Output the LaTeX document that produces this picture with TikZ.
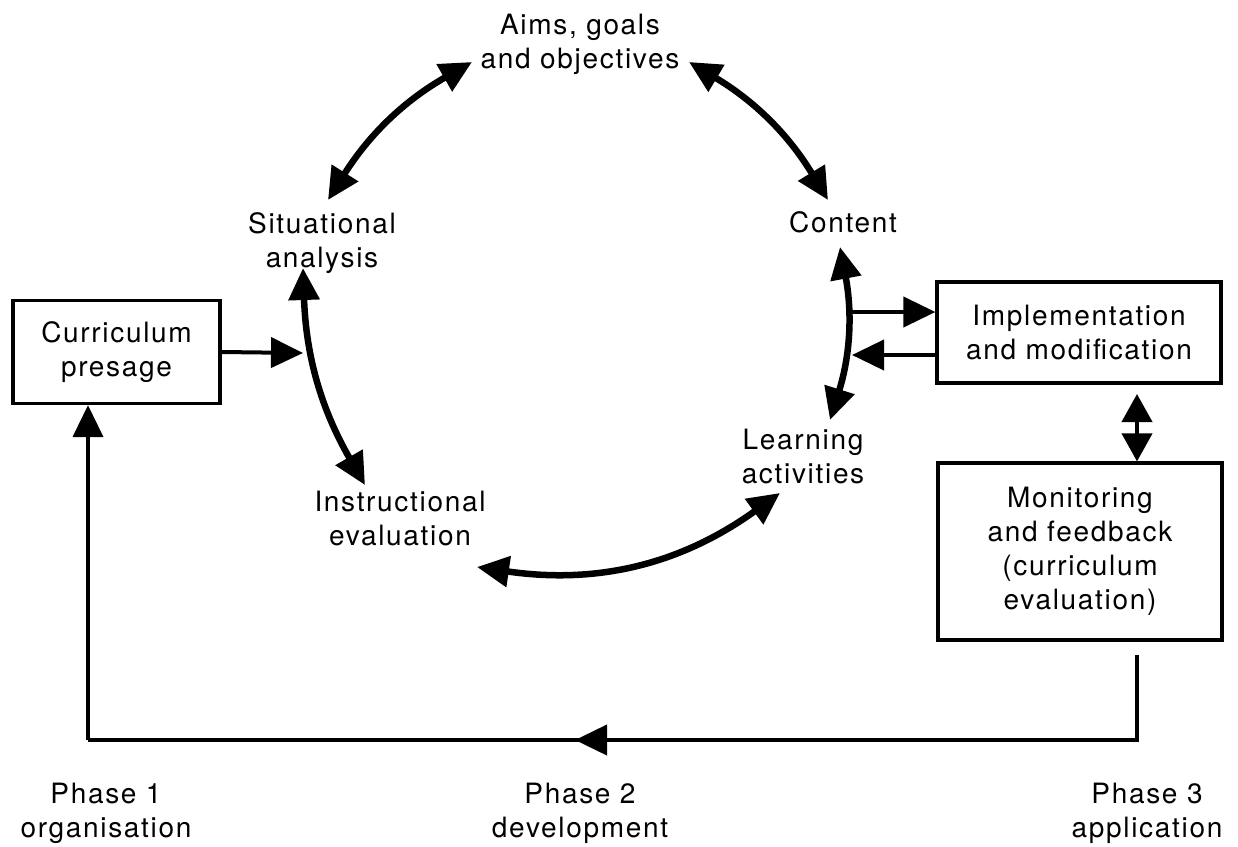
\documentclass[tikz,border=0pt]{standalone}
\usepackage{fontspec}
\setmainfont{TeX Gyre Heros}[LetterSpace=6]
\usetikzlibrary{arrows.meta}
\begin{document}
\begin{tikzpicture}[x=1pt,y=-1pt,
  lbl/.style={align=center,font=\fontsize{28}{34}\selectfont,inner sep=0pt},
  boxed/.style={draw,line width=3.2pt,align=center,font=\fontsize{28}{34}\selectfont,inner sep=0pt},
  arc/.style={line width=6.5pt,{Triangle[length=32pt,width=30pt]}-{Triangle[length=32pt,width=30pt]}},
  sarr/.style={line width=4pt,-{Triangle[length=32pt,width=30pt]}},
  darr/.style={line width=4pt,{Triangle[length=28pt,width=30pt]}-{Triangle[length=28pt,width=30pt]}},
  lin/.style={line width=4pt}]
\useasboundingbox[fill=white] (0,0) rectangle (1238,846);
% text nodes
\node[lbl] (aims) at (580,44) {Aims, goals\\and objectives};
\node[lbl] (sit) at (322,243) {Situational\\analysis};
\node[lbl] (content) at (843,222) {Content};
\node[lbl] (learn) at (803,456) {Learning\\activities};
\node[lbl] (instr) at (400,518) {Instructional\\evaluation};
% boxes
\node[boxed,minimum width=207pt,minimum height=103pt] (presage) at (116.5,352) {Curriculum\\presage};
\node[boxed,minimum width=284pt,minimum height=101pt] (impl) at (1079,332.5) {Implementation\\and modification};
\node[boxed,minimum width=284pt,minimum height=177pt] (monit) at (1080,551.5) {Monitoring\\and feedback\\(curriculum\\evaluation)};
% phase labels
\node[lbl] (p1) at (106,813) {Phase 1\\organisation};
\node[lbl] (p2) at (580,813) {Phase 2\\development};
\node[lbl] (p3) at (1147,813) {Phase 3\\application};
% arc end points
\coordinate (a1) at (328,200); \coordinate (a2) at (472,62);
\coordinate (a3) at (689,62);  \coordinate (a4) at (828,200);
\coordinate (a5) at (840,247); \coordinate (a6) at (830,420);
\coordinate (a7) at (780,493); \coordinate (a8) at (477,567);
\coordinate (a9) at (365,485); \coordinate (a10) at (303,268);
\draw[arc] (a1) to[bend left=14] (a2);
\draw[arc] (a3) to[bend left=14] (a4);
\draw[arc] (a5) to[bend left=14] (a6);
\draw[arc] (a7) to[bend left=22] (a8);
\draw[arc] (a9) to[bend left=14] (a10);
% straight arrows
\coordinate (ptip) at (303,353);
\draw[sarr] (presage.east) -- (ptip);
\coordinate (c1) at (851,312);
\coordinate (c2) at (852,355);
\draw[sarr] (c1) -- (c1 -| impl.west);
\draw[sarr] (c2 -| impl.west) -- (c2);
\coordinate (v1) at (1137,394);
\draw[darr] (v1) -- (v1 |- monit.north);
% feedback loop
\coordinate (r1) at (1137,655);
\coordinate (r2) at (1137,740);
\coordinate (l1) at (88,740);
\coordinate (mtip) at (575,740);
\coordinate (mstart) at (640,740);
\draw[lin] (r1) -- (r2) -- (l1);
\draw[sarr] (l1) -- (l1 |- presage.south);
\draw[sarr] (mstart) -- (mtip);
\end{tikzpicture}
\end{document}
